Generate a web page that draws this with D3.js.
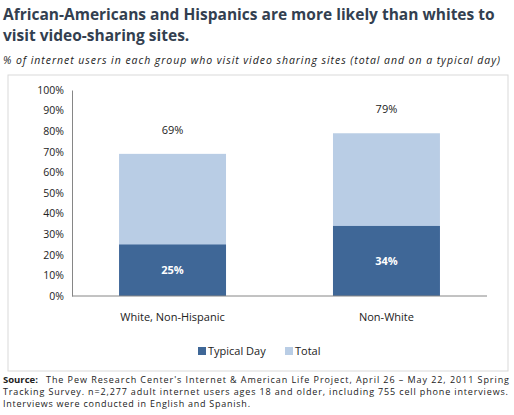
<!DOCTYPE html>
<html><head><meta charset="utf-8">
<script src="https://cdn.jsdelivr.net/npm/d3@7"></script>
<style>body{margin:0;background:#fff;font-family:Carlito,Calibri,"Open Sans",sans-serif;}</style>
</head><body>
<script>
const categories = ["White, Non-Hispanic", "Non-White"];
const typicalDay = [25, 34];
const total = [69, 79];
const ticks = [0,10,20,30,40,50,60,70,80,90,100];

const svg = d3.select("body").append("svg").attr("width", 514).attr("height", 415);
const font = "'Open Sans', sans-serif";

// title
svg.append("text").selectAll("tspan")
    .data(["African-Americans and Hispanics are more likely than whites to", "visit  video-sharing sites."])
    .enter().append("tspan")
      .attr("x", 3).attr("y", (d, i) => 20 + i * 21)
      .attr("font-family", font).attr("font-weight", "bold").attr("font-size", 15.5)
      .attr("fill", "#333f50").text(d => d);

svg.append("text").attr("x", 3).attr("y", 64)
    .attr("font-family", font).attr("font-style", "italic").attr("font-size", 10.5)
    .attr("textLength", 497).attr("lengthAdjust", "spacing")
    .attr("fill", "#222").text("% of internet users in each group who visit video sharing sites  (total and on a typical day)");

// chart frame
svg.append("rect").attr("x", 8).attr("y", 75).attr("width", 500).attr("height", 296)
    .attr("fill", "none").attr("stroke", "#d9d9d9");

const x = d3.scaleBand().domain(categories).range([72, 487]).paddingInner(0.5).paddingOuter(0.22);
const y = d3.scaleLinear().domain([0, 100]).range([296, 90]);

const yAxis = svg.append("g").attr("transform", "translate(72,0)")
    .call(d3.axisLeft(y).tickValues(ticks).tickFormat(d => d + "%").tickSize(0).tickPadding(8));
yAxis.select(".domain").attr("stroke", "#868686");
yAxis.selectAll("text").attr("font-family", font).attr("font-size", 10.5).attr("fill", "#222");

svg.selectAll("rect.total").data(total).enter().append("rect")
    .attr("x", (d, i) => x(categories[i])).attr("width", x.bandwidth())
    .attr("y", d => y(d)).attr("height", d => y(0) - y(d)).attr("fill", "#b9cde5");
svg.selectAll("rect.day").data(typicalDay).enter().append("rect")
    .attr("x", (d, i) => x(categories[i])).attr("width", x.bandwidth())
    .attr("y", d => y(d)).attr("height", d => y(0) - y(d)).attr("fill", "#3f6797");

svg.append("line").attr("x1", 72).attr("x2", 487).attr("y1", y(0)).attr("y2", y(0)).attr("stroke", "#868686");

svg.selectAll("text.tl").data(total).enter().append("text")
    .attr("x", (d, i) => x(categories[i]) + x.bandwidth() / 2).attr("y", d => y(d) - 20)
    .attr("text-anchor", "middle").attr("font-family", font).attr("font-size", 11).attr("fill", "#222")
    .text(d => d + "%");
svg.selectAll("text.dl").data(typicalDay).enter().append("text")
    .attr("x", (d, i) => x(categories[i]) + x.bandwidth() / 2).attr("y", d => y(d / 2) + 4)
    .attr("text-anchor", "middle").attr("font-family", font).attr("font-weight", "bold").attr("font-size", 11).attr("fill", "#fff")
    .text(d => d + "%");

svg.selectAll("text.cat").data(categories).enter().append("text")
    .attr("x", d => x(d) + x.bandwidth() / 2).attr("y", 321)
    .attr("text-anchor", "middle").attr("font-family", font).attr("font-size", 11).attr("fill", "#222")
    .text(d => d);

// legend
const legend = [["Typical Day", "#3f6797", 198], ["Total", "#b9cde5", 285]];
legend.forEach(l => {
  svg.append("rect").attr("x", l[2]).attr("y", 347).attr("width", 8).attr("height", 8).attr("fill", l[1]);
  svg.append("text").attr("x", l[2] + 10).attr("y", 355).attr("font-family", font).attr("font-size", 11)
     .attr("fill", "#222").text(l[0]);
});

// source, one text per line
const srcLines = [
  ["The Pew Research Center's Internet & American Life Project, April 26 – May 22, 2011 Spring", 383, 463],
  ["Tracking Survey. n=2,277 adult internet users ages 18 and older, including 755 cell phone interviews.", 395, 505],
  ["Interviews were conducted in English and Spanish.", 407, 247]
];
svg.append("text").attr("x", 3).attr("y", 383).attr("font-family", font).attr("font-weight", "bold")
    .attr("font-size", 9.5).attr("fill", "#222").text("Source:");
srcLines.forEach((l, i) => {
  svg.append("text").attr("x", i === 0 ? 46 : 3).attr("y", l[1]).attr("font-family", font)
     .attr("font-size", 9).attr("fill", "#222")
     .attr("textLength", l[2]).attr("lengthAdjust", "spacing").text(l[0]);
});
</script>
</body></html>
